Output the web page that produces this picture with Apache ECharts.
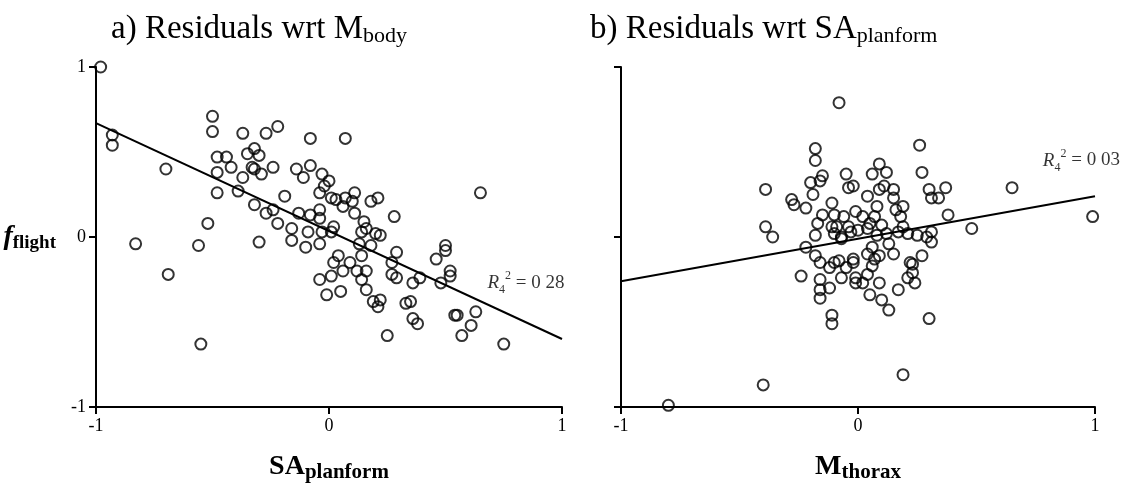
<!DOCTYPE html>
<html>
<head>
<meta charset="utf-8">
<script src="https://cdn.jsdelivr.net/npm/echarts@6/dist/echarts.min.js"></script>
<style>html,body{margin:0;padding:0;background:#fff}#c{width:1135px;height:494px}</style>
</head>
<body>
<div id="c"></div>
<script>
// Panel a: residual f_flight vs SA_planform
const pointsA = [
[-0.98,1.00],[-0.93,0.60],[-0.93,0.54],[-0.70,0.40],[-0.83,-0.04],[-0.56,-0.05],[-0.69,-0.22],[-0.55,-0.63],
[-0.52,0.08],[-0.50,0.71],[-0.50,0.62],[-0.37,0.61],[-0.27,0.61],[-0.22,0.65],[-0.08,0.58],[0.07,0.58],
[-0.48,0.47],[-0.44,0.47],[-0.42,0.41],[-0.48,0.38],[-0.35,0.49],[-0.32,0.52],[-0.30,0.48],[-0.33,0.41],
[-0.32,0.40],[-0.29,0.37],[-0.24,0.41],[-0.37,0.35],[-0.14,0.40],[-0.11,0.35],[-0.08,0.42],[-0.03,0.37],
[0.00,0.33],[-0.02,0.30],[-0.04,0.26],[0.01,0.23],[0.03,0.22],[0.07,0.23],[0.06,0.18],[0.11,0.26],
[0.10,0.21],[0.11,0.14],[0.18,0.21],[0.21,0.23],[-0.48,0.26],[-0.39,0.27],[-0.19,0.24],[-0.32,0.19],
[-0.27,0.14],[-0.24,0.16],[-0.22,0.08],[-0.13,0.14],[-0.08,0.13],[-0.04,0.16],[-0.04,0.11],[-0.16,0.05],
[-0.16,-0.02],[-0.09,0.03],[-0.03,0.03],[0.02,0.06],[0.01,0.03],[0.15,0.09],[0.14,0.03],[0.20,0.02],
[-0.30,-0.03],[-0.10,-0.06],[-0.04,-0.04],[0.13,-0.04],[0.18,-0.05],[0.65,0.26],[0.28,0.12],[0.22,0.01],
[0.14,-0.11],[0.04,-0.11],[0.02,-0.15],[0.09,-0.15],[0.06,-0.20],[0.12,-0.20],[0.16,-0.20],[0.29,-0.09],
[0.27,-0.15],[0.27,-0.22],[0.46,-0.13],[0.50,-0.05],[0.50,-0.08],[0.52,-0.20],[0.52,-0.23],[0.39,-0.24],
[0.01,-0.23],[-0.04,-0.25],[-0.01,-0.34],[0.05,-0.32],[0.14,-0.25],[0.16,-0.31],[0.19,-0.38],[0.22,-0.37],
[0.21,-0.41],[0.29,-0.24],[0.33,-0.39],[0.35,-0.38],[0.36,-0.48],[0.38,-0.51],[0.25,-0.58],[0.36,-0.27],
[0.48,-0.27],[0.54,-0.46],[0.55,-0.46],[0.63,-0.44],[0.61,-0.52],[0.57,-0.58],[0.75,-0.63],[0.16,0.05]
];
// Panel b: residual f_flight vs M_thorax
const pointsB = [
[-0.08,0.79],[-0.18,0.52],[-0.18,0.45],[-0.15,0.36],[-0.16,0.33],[-0.20,0.32],[-0.05,0.37],[-0.04,0.29],
[-0.02,0.30],[0.09,0.43],[0.06,0.37],[0.12,0.38],[-0.39,0.28],[-0.28,0.22],[-0.27,0.19],[-0.22,0.17],
[-0.19,0.25],[-0.11,0.20],[0.04,0.24],[0.09,0.28],[0.11,0.30],[0.15,0.28],[0.15,0.23],[0.08,0.18],
[0.16,0.16],[-0.15,0.13],[-0.10,0.13],[-0.06,0.12],[-0.01,0.15],[0.02,0.12],[0.05,0.08],[-0.17,0.08],
[-0.11,0.06],[-0.04,0.06],[0.00,0.04],[-0.39,0.06],[-0.36,0.00],[-0.18,0.01],[-0.10,0.02],[-0.07,-0.01],
[0.12,0.02],[-0.22,-0.06],[0.06,-0.06],[0.13,-0.04],[0.26,0.54],[0.27,0.38],[0.19,0.18],[0.30,0.28],
[0.31,0.23],[0.34,0.23],[0.37,0.29],[0.38,0.13],[0.65,0.29],[0.99,0.12],[0.48,0.05],[-0.09,0.06],
[0.04,0.05],[0.07,0.12],[0.10,0.07],[0.18,0.12],[0.19,0.06],[0.17,0.03],[0.21,0.02],[0.08,0.01],
[-0.07,0.00],[-0.03,0.03],[0.25,0.01],[0.29,0.00],[0.31,0.03],[0.31,-0.03],[-0.18,-0.11],[-0.16,-0.15],
[-0.12,-0.18],[-0.08,-0.14],[-0.05,-0.18],[-0.02,-0.13],[0.04,-0.10],[0.09,-0.11],[0.15,-0.10],[0.22,-0.15],
[0.23,-0.21],[0.27,-0.11],[0.06,-0.17],[0.04,-0.22],[-0.24,-0.23],[-0.16,-0.25],[-0.07,-0.24],[-0.01,-0.24],
[-0.10,-0.15],[-0.02,-0.15],[-0.01,-0.27],[0.07,-0.13],[0.09,-0.27],[0.02,-0.27],[0.05,-0.34],[0.10,-0.37],
[0.13,-0.43],[-0.16,-0.31],[-0.16,-0.36],[-0.12,-0.30],[-0.11,-0.46],[-0.11,-0.51],[0.17,-0.31],[0.23,-0.16],
[0.21,-0.24],[0.24,-0.27],[0.30,-0.48],[0.19,-0.81],[-0.40,-0.87],[-0.80,-0.99]
];
const fitA = [[-1,0.67],[1,-0.60]];
const fitB = [[-1,-0.26],[1,0.24]];
const xTicks = [-1,0,1];
const yTicks = [-1,0,1];
const r2A = '0 28';
const r2B = '0 03';

const SERIF = 'Liberation Serif';
const chart = echarts.init(document.getElementById('c'), null, {renderer:'canvas'});

function xAxis(idx, nameMain, nameSub){
  return {
    gridIndex: idx, type:'value', min:-1, max:1, interval:1,
    axisLine:{show:true, onZero:false, lineStyle:{color:'#000', width:2}},
    axisTick:{show:true, inside:false, length:7, lineStyle:{color:'#000', width:2}},
    splitLine:{show:false},
    axisLabel:{color:'#000', fontFamily:SERIF, fontSize:18, margin:10},
    name:'{b|'+nameMain+'}{s|'+nameSub+'}', nameLocation:'middle', nameGap:44,
    nameTextStyle:{rich:{
      b:{fontFamily:SERIF, fontWeight:'bold', fontSize:28, color:'#000', lineHeight:32, verticalAlign:'middle'},
      s:{fontFamily:SERIF, fontWeight:'bold', fontSize:21, color:'#000', lineHeight:12, verticalAlign:'bottom'}
    }}
  };
}
function yAxis(idx, showLabels){
  const ax = {
    gridIndex: idx, type:'value', min:-1, max:1, interval:1,
    axisLine:{show:true, onZero:false, lineStyle:{color:'#000', width:2}},
    axisTick:{show:true, inside:false, length:7, lineStyle:{color:'#000', width:2}},
    splitLine:{show:false},
    axisLabel:{show:showLabels, color:'#000', fontFamily:SERIF, fontSize:18, margin:10}
  };
  if (showLabels){
    ax.name = '{f|f}{s|flight}';
    ax.nameLocation = 'middle';
    ax.nameRotate = 0;
    ax.nameGap = 40;
    ax.nameTextStyle = {rich:{
      f:{fontFamily:SERIF, fontWeight:'bold', fontStyle:'italic', fontSize:28, color:'#000', lineHeight:32, verticalAlign:'middle'},
      s:{fontFamily:SERIF, fontWeight:'bold', fontSize:19, color:'#000', lineHeight:12, verticalAlign:'bottom'}
    }};
  }
  return ax;
}
const r2Rich = {
  r:{fontFamily:SERIF, fontStyle:'italic', fontSize:19, color:'#000', lineHeight:26, verticalAlign:'middle'},
  sub:{fontFamily:SERIF, fontSize:12, color:'#000', lineHeight:10, verticalAlign:'bottom'},
  sup:{fontFamily:SERIF, fontSize:12, color:'#000', lineHeight:10, verticalAlign:'top'},
  t:{fontFamily:SERIF, fontSize:19, color:'#000', lineHeight:26, verticalAlign:'middle'}
};
function r2Label(xi, yi, pos, val){
  return {
    type:'scatter', xAxisIndex:xi, yAxisIndex:yi, silent:true, symbolSize:0,
    data:[pos], z:5,
    label:{show:true, position:'right', distance:0, formatter:'{r|R}{sub|4}{sup|2}{t| = '+val+'}', rich:r2Rich}
  };
}
const circleStyle = {color:'rgba(0,0,0,0)', borderColor:'#000', borderWidth:2};
const titleRich = {
  a:{fontFamily:SERIF, fontWeight:'normal', fontSize:33, color:'#000', lineHeight:36, verticalAlign:'middle'},
  s:{fontFamily:SERIF, fontWeight:'normal', fontSize:22, color:'#000', lineHeight:14, verticalAlign:'bottom'}
};

chart.setOption({
  backgroundColor:'#fff',
  animation:false,
  title:[
    {text:'{a|a) Residuals wrt M}{s|body}', left:106, top:6, textStyle:{fontWeight:'normal', rich:titleRich}},
    {text:'{a|b) Residuals wrt SA}{s|planform}', left:585, top:6, textStyle:{fontWeight:'normal', rich:titleRich}}
  ],
  grid:[
    {left:96, top:67, width:466, height:340},
    {left:621, top:67, width:474, height:340}
  ],
  xAxis:[xAxis(0,'SA','planform'), xAxis(1,'M','thorax')],
  yAxis:[yAxis(0,true), yAxis(1,false)],
  series:[
    {type:'scatter', xAxisIndex:0, yAxisIndex:0, data:pointsA, symbol:'circle', symbolSize:11, itemStyle:circleStyle, z:3},
    {type:'line', xAxisIndex:0, yAxisIndex:0, data:fitA, showSymbol:false, symbol:'none', lineStyle:{color:'#000', width:2}, z:2},
    {type:'scatter', xAxisIndex:1, yAxisIndex:1, data:pointsB, symbol:'circle', symbolSize:11, itemStyle:circleStyle, z:3},
    {type:'line', xAxisIndex:1, yAxisIndex:1, data:fitB, showSymbol:false, symbol:'none', lineStyle:{color:'#000', width:2}, z:2},
    r2Label(0,0,[0.68,-0.27],r2A),
    r2Label(1,1,[0.78,0.45],r2B)
  ]
});
</script>
</body>
</html>
